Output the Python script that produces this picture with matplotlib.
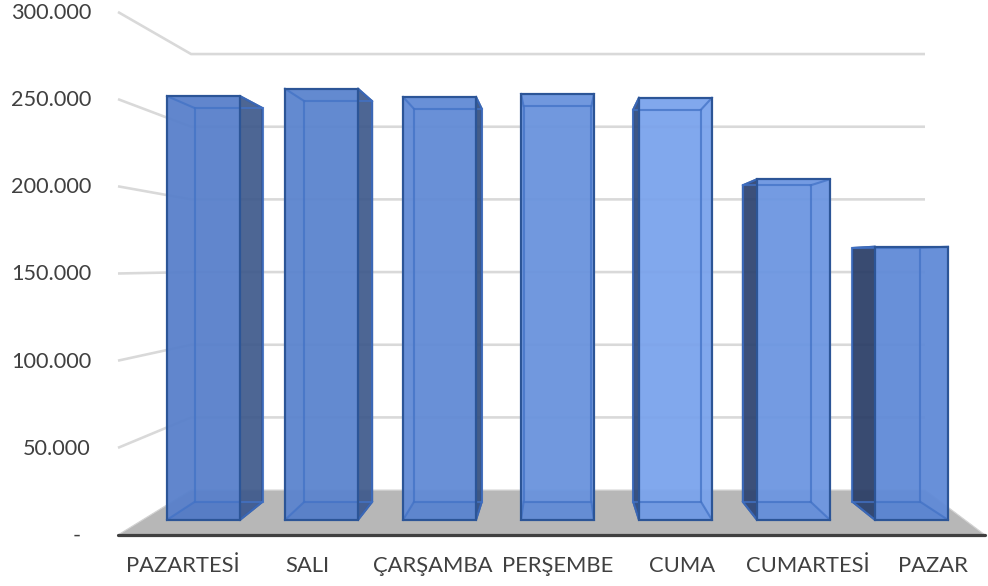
import matplotlib
matplotlib.use("Agg")
import matplotlib.pyplot as plt
from matplotlib.patches import Polygon

days = ["PAZARTESİ", "SALI", "ÇARŞAMBA", "PERŞEMBE", "CUMA", "CUMARTESİ", "PAZAR"]
values = [257500, 262000, 257000, 258800, 256500, 207000, 166000]
ticks = [0, 50000, 100000, 150000, 200000, 250000, 300000]
front_cols = ["#5880cb", "#5b84ce", "#618ad5", "#6993dd", "#7aa3ec", "#6c96e1", "#608ad7"]
side_cols = ["#3f5a8c", "#3f5a8c", "#34507f", "#34507f", "#2f4a7c", "#2d4370", "#2a3d66"]

# simple perspective camera (pixel layout)
VX, VY = 557.5, 265.0
BASE_Y, PX_PER_VAL = 535.0, 87.17 / 50000
X0, DX, BAR_W = 182.5, 125.0, 77.3
S_WALL, S_FRONT, S_BACK = 0.8337, 0.944, 0.877


def proj(X, v, s):
    return (VX + (X - VX) * s, VY + (BASE_Y - v * PX_PER_VAL - VY) * s)


fig = plt.figure(figsize=(9.88, 5.86), dpi=100)
ax = fig.add_axes([0, 0, 1, 1])
ax.set_xlim(0, 988)
ax.set_ylim(586, 0)
ax.axis("off")
plt.rcParams["font.family"] = ["Lato", "DejaVu Sans"]

px = 0.72
XL, XR = 118, 985
XBR = 925
yb = proj(XL, 0, S_WALL)[1]
xbl = proj(XL, 0, S_WALL)[0]

# gridlines
for t in ticks:
    yf = proj(XL, t, 1)[1]
    yk = proj(XL, t, S_WALL)[1]
    if t > 0:
        ax.plot([XL, xbl, XBR], [yf, yk, yk], color="#d9d9d9", lw=2.6 * px, zorder=1,
                solid_joinstyle="miter", solid_capstyle="butt")
    lab = "-" if t == 0 else f"{t:,}".replace(",", ".")
    ax.text(91 if t else 81, yf + 1, lab, ha="right", va="center", fontsize=15.6,
            color="#404040", zorder=10)

# floor
ax.add_patch(Polygon([(XL, BASE_Y), (xbl, yb), (XBR, yb), (XR, BASE_Y)], closed=True,
                     facecolor="#b7b7b7", edgecolor="#d2d2d2", lw=1.2 * px, zorder=2))
ax.plot([XL, XR], [BASE_Y, BASE_Y], color="#404040", lw=3.2 * px, zorder=3, solid_capstyle="round")

# bars
for i, (d, v) in enumerate(zip(days, values)):
    xc = X0 + i * DX
    xa, xb = xc - BAR_W / 2, xc + BAR_W / 2
    fbl, fbr = proj(xa, 0, S_FRONT), proj(xb, 0, S_FRONT)
    ftl, ftr = proj(xa, v, S_FRONT), proj(xb, v, S_FRONT)
    bbl, bbr = proj(xa, 0, S_BACK), proj(xb, 0, S_BACK)
    btl, btr = proj(xa, v, S_BACK), proj(xb, v, S_BACK)
    z = 4 + i * 0.01
    # side face
    if bbr[0] > fbr[0] + 1:
        side = [ftr, btr, bbr, fbr]
    elif bbl[0] < fbl[0] - 1:
        side = [ftl, btl, bbl, fbl]
    else:
        side = None
    if side:
        ax.add_patch(Polygon(side, closed=True, facecolor=side_cols[i], alpha=0.93,
                             edgecolor="none", zorder=z))
        ax.add_patch(Polygon(side, closed=True, facecolor="none", edgecolor="#264a8a",
                             lw=2 * px, zorder=z + 0.003, joinstyle="round"))
    # front face
    front = [ftl, ftr, fbr, fbl]
    ax.add_patch(Polygon(front, closed=True, facecolor=front_cols[i], alpha=0.95,
                         edgecolor="none", zorder=z + 0.001))
    # floor-of-bar darker tint
    ax.add_patch(Polygon([fbl, fbr, bbr, bbl], closed=True, facecolor="#2f5fb0", alpha=0.12,
                         edgecolor="none", zorder=z + 0.002))
    # inner back edges
    inner = "#4272c6"
    ax.add_patch(Polygon([btl, btr, bbr, bbl], closed=True, facecolor="none", edgecolor=inner,
                         alpha=0.75, lw=2.1 * px, zorder=z + 0.004))
    for p, q in [(ftl, btl), (ftr, btr), (fbl, bbl), (fbr, bbr)]:
        ax.plot([p[0], q[0]], [p[1], q[1]], color=inner, alpha=0.75, lw=2.1 * px, zorder=z + 0.004)
    ax.add_patch(Polygon(front, closed=True, facecolor="none", edgecolor="#2c5597",
                         lw=2.2 * px, zorder=z + 0.005, joinstyle="miter"))
    # category label
    ax.text(xc, 566, d, ha="center", va="center", fontsize=15.8, color="#404040", zorder=10)

fig.savefig("out.png", dpi=100, facecolor="white")
